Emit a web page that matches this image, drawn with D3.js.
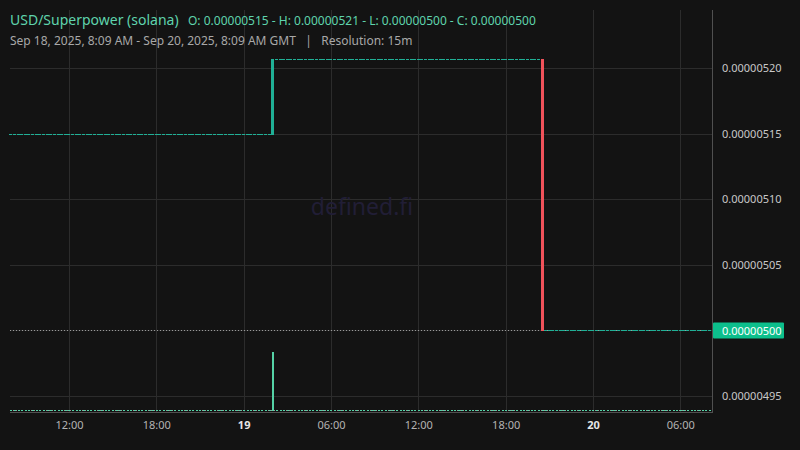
<!DOCTYPE html>
<html>
<head>
<meta charset="utf-8">
<script src="https://cdn.jsdelivr.net/npm/d3@7"></script>
<style>
  html, body { margin: 0; padding: 0; background: #131313; }
  svg { display: block; font-family: "Noto Sans", "Open Sans", sans-serif; }
</style>
</head>
<body>
<div id="chart"></div>
<script>
// 15m candles, Sep 18 08:00 -> Sep 20 08:00 GMT
var candleStart = Date.UTC(2025, 8, 18, 8, 0);
var resolutionMin = 15;
var priceUnit = 1e-8;
var firstOpen = 515;

// closes, in units of 1e-8
var closes = [
  515,515,515,515,515,515,515,515,515,515,515,515,
  515,515,515,515,515,515,515,515,515,515,515,515,
  515,515,515,515,515,515,515,515,515,515,515,515,
  515,515,515,515,515,515,515,515,515,515,515,515,
  515,515,515,515,515,515,515,515,515,515,515,515,
  515,515,515,515,515,515,515,515,515,515,515,515,
  520.7,
  520.7,520.7,520.7,520.7,520.7,520.7,520.7,520.7,520.7,520.7,520.7,520.7,
  520.7,520.7,520.7,520.7,520.7,520.7,520.7,520.7,520.7,520.7,520.7,520.7,
  520.7,520.7,520.7,520.7,520.7,520.7,520.7,520.7,520.7,520.7,520.7,520.7,
  520.7,520.7,520.7,520.7,520.7,520.7,520.7,520.7,520.7,520.7,520.7,520.7,
  520.7,520.7,520.7,520.7,520.7,520.7,520.7,520.7,520.7,520.7,520.7,520.7,
  520.7,520.7,520.7,520.7,520.7,520.7,520.7,520.7,520.7,520.7,520.7,520.7,
  520.7,
  500,
  500,500,500,500,500,500,500,500,500,500,500,500,
  500,500,500,500,500,500,500,500,500,500,500,500,
  500,500,500,500,500,500,500,500,500,500,500,500,
  500,500,500,500,500,500,500,500,500,500
];

// volume per candle (relative)
var volumes = [
  0,0,0,0,0,0,0,0,0,0,0,0, 0,0,0,0,0,0,0,0,0,0,0,0,
  0,0,0,0,0,0,0,0,0,0,0,0, 0,0,0,0,0,0,0,0,0,0,0,0,
  0,0,0,0,0,0,0,0,0,0,0,0, 0,0,0,0,0,0,0,0,0,0,0,0,
  100,
  0,0,0,0,0,0,0,0,0,0,0,0, 0,0,0,0,0,0,0,0,0,0,0,0,
  0,0,0,0,0,0,0,0,0,0,0,0, 0,0,0,0,0,0,0,0,0,0,0,0,
  0,0,0,0,0,0,0,0,0,0,0,0, 0,0,0,0,0,0,0,0,0,0,0,0,
  0,
  0,
  0,0,0,0,0,0,0,0,0,0,0,0, 0,0,0,0,0,0,0,0,0,0,0,0,
  0,0,0,0,0,0,0,0,0,0,0,0, 0,0,0,0,0,0,0,0,0,0
];

var priceTicks = [495, 505, 510, 515, 520];
var priceTickLabels = ["0.00000495", "0.00000505", "0.00000510", "0.00000515", "0.00000520"];
var lastPriceLabel = "0.00000500";

var timeTicks = [
  Date.UTC(2025, 8, 18, 12), Date.UTC(2025, 8, 18, 18), Date.UTC(2025, 8, 19, 0),
  Date.UTC(2025, 8, 19, 6), Date.UTC(2025, 8, 19, 12), Date.UTC(2025, 8, 19, 18),
  Date.UTC(2025, 8, 20, 0), Date.UTC(2025, 8, 20, 6)
];
var timeTickLabels = ["12:00", "18:00", "19", "06:00", "12:00", "18:00", "20", "06:00"];
var timeTickBold = [false, false, true, false, false, false, true, false];

var titleText = "USD/Superpower (solana)";
var ohlcText = "O: 0.00000515 - H: 0.00000521 - L: 0.00000500 - C: 0.00000500";
var subText = "Sep 18, 2025, 8:09 AM - Sep 20, 2025, 8:09 AM GMT   |   Resolution: 15m";

var width = 800, height = 450;
var plotLeft = 10, plotRight = 712, plotTop = 10, plotBottom = 412;

var candles = closes.map(function(c, i) {
  var o = i === 0 ? firstOpen : closes[i - 1];
  return {
    t: candleStart + i * resolutionMin * 60000,
    o: o * priceUnit, c: c * priceUnit,
    h: Math.max(o, c) * priceUnit, l: Math.min(o, c) * priceUnit,
    v: volumes[i]
  };
});

var x = d3.scaleTime()
  .domain([Date.UTC(2025, 8, 18, 7, 57), Date.UTC(2025, 8, 20, 8, 10, 30)])
  .range([plotLeft, plotRight]);
var y = d3.scaleLinear()
  .domain([493.78 * priceUnit, 524.42 * priceUnit])
  .range([plotBottom, plotTop]);
var yVol = d3.scaleLinear()
  .domain([0, d3.max(volumes)])
  .range([411.5, 352]);

var bodyW = 3;
function bodyX(d) { return Math.round(x(d.t) - bodyW / 2); }

var svg = d3.select("#chart").append("svg")
  .attr("width", width).attr("height", height);

svg.append("rect").attr("width", width).attr("height", height).attr("fill", "#131313");

// grid
var grid = svg.append("g").attr("shape-rendering", "crispEdges");
grid.selectAll(".vg").data(timeTicks).enter().append("line")
  .attr("x1", d => Math.round(x(d)) + 0.5).attr("x2", d => Math.round(x(d)) + 0.5)
  .attr("y1", plotTop).attr("y2", plotBottom)
  .attr("stroke", "#2c2c2c");
grid.selectAll(".hg").data(priceTicks.concat([500])).enter().append("line")
  .attr("x1", plotLeft).attr("x2", plotRight)
  .attr("y1", d => Math.round(y(d * priceUnit)) + 0.5).attr("y2", d => Math.round(y(d * priceUnit)) + 0.5)
  .attr("stroke", "#2c2c2c");

// watermark
svg.append("text")
  .attr("x", 362).attr("y", 215)
  .attr("text-anchor", "middle")
  .attr("font-size", 23)
  .attr("fill", "#211e36")
  .text("defined.fi");

// price line + volume line (dotted)
var lastY = Math.round(y(closes[closes.length - 1] * priceUnit));
svg.append("line")
  .attr("x1", plotLeft).attr("x2", plotRight)
  .attr("y1", lastY + 0.5).attr("y2", lastY + 0.5)
  .attr("stroke", "#9a9a9a").attr("stroke-dasharray", "1,2");
svg.append("line")
  .attr("x1", plotLeft).attr("x2", plotRight)
  .attr("y1", 410.5).attr("y2", 410.5)
  .attr("stroke", "#9a9a9a").attr("stroke-dasharray", "1,2");

// volume
svg.append("g").attr("shape-rendering", "crispEdges")
  .selectAll("rect").data(candles).enter().append("rect")
  .attr("x", d => bodyX(d) + 1)
  .attr("width", 2)
  .attr("y", d => Math.min(Math.round(yVol(d.v)), 410))
  .attr("height", d => Math.max(411 - Math.round(yVol(d.v)), 1))
  .attr("fill", "#55d2a6");

// candles
svg.append("g").attr("shape-rendering", "crispEdges")
  .selectAll("rect").data(candles).enter().append("rect")
  .attr("x", bodyX)
  .attr("width", bodyW)
  .attr("y", d => Math.round(y(d.h)))
  .attr("height", d => Math.max(Math.round(y(d.l)) - Math.round(y(d.h)) + 1, 1))
  .attr("fill", d => d.c < d.o ? "#f0525a" : "#20b096");

// axes borders
var border = svg.append("g").attr("shape-rendering", "crispEdges");
border.append("line").attr("x1", plotRight + 0.5).attr("x2", plotRight + 0.5)
  .attr("y1", plotTop).attr("y2", plotBottom + 1).attr("stroke", "#505050");
border.append("line").attr("x1", plotLeft).attr("x2", plotRight + 1)
  .attr("y1", plotBottom + 0.5).attr("y2", plotBottom + 0.5).attr("stroke", "#505050");

// price axis
var yAxis = d3.axisRight(y)
  .tickValues(priceTicks.map(d => d * priceUnit))
  .tickFormat((d, i) => priceTickLabels[i])
  .tickSize(0).tickPadding(10);
svg.append("g").attr("transform", "translate(" + plotRight + ",0)").call(yAxis)
  .call(g => g.select(".domain").remove())
  .call(g => g.selectAll("text").attr("fill", "#c8c8c8").attr("font-size", 11)
    .attr("font-family", "Noto Sans, sans-serif"));

// last price label
svg.append("rect")
  .attr("x", plotRight + 1).attr("y", lastY - 7.5).attr("width", 71).attr("height", 16)
  .attr("rx", 1)
  .attr("fill", "#0cbf8c");
svg.append("text")
  .attr("x", plotRight + 10).attr("y", lastY + 4.5)
  .attr("font-size", 11).attr("fill", "#ffffff")
  .text(lastPriceLabel);

// time axis
var xAxis = d3.axisBottom(x)
  .tickValues(timeTicks)
  .tickFormat((d, i) => timeTickLabels[i])
  .tickSize(0).tickPadding(9);
svg.append("g").attr("transform", "translate(0," + plotBottom + ")").call(xAxis)
  .call(g => g.select(".domain").remove())
  .call(g => g.selectAll("text")
    .attr("font-size", 11)
    .attr("font-family", "Noto Sans, sans-serif")
    .attr("fill", (d, i) => timeTickBold[i] ? "#e6e6e6" : "#b4b4b4")
    .attr("font-weight", (d, i) => timeTickBold[i] ? "bold" : "normal"));

// header
svg.append("text").attr("x", 10).attr("y", 25)
  .attr("font-size", 14).attr("fill", "#5fd3ad").text(titleText);
svg.append("text").attr("x", 188).attr("y", 25)
  .attr("font-size", 12).attr("fill", "#5fd3ad").text(ohlcText);
svg.append("text").attr("x", 10).attr("y", 45)
  .attr("font-size", 12).attr("fill", "#a8a8a8")
  .attr("xml:space", "preserve").style("white-space", "pre")
  .text(subText);
</script>
</body>
</html>
